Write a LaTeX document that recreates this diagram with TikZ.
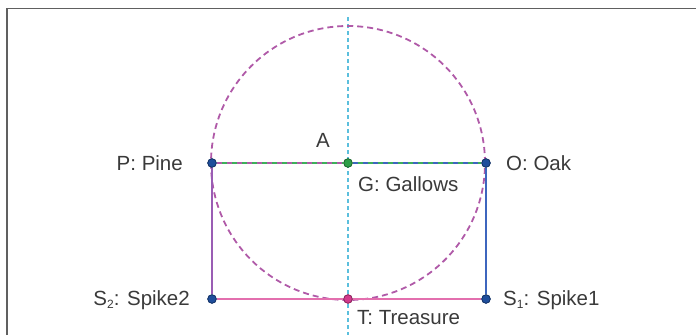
\documentclass[tikz,border=0pt]{standalone}
\usepackage{fontspec}
\setmainfont{Liberation Sans}
\definecolor{framec}{HTML}{606060}
\definecolor{circc}{HTML}{B05AA8}
\definecolor{cyanc}{HTML}{5BBFDD}
\definecolor{greenc}{HTML}{3DAF5A}
\definecolor{bluec}{HTML}{3D66BE}
\definecolor{pinkc}{HTML}{E36FAE}
\definecolor{purplec}{HTML}{9A5DB4}
\definecolor{dotblue}{HTML}{1F4E9C}
\definecolor{dotgreen}{HTML}{2E9E48}
\definecolor{dotpink}{HTML}{D23A8C}
\definecolor{textc}{HTML}{3A3A3A}
\newcommand{\lowsub}[1]{\raisebox{-0.15em}{\fontsize{12}{12}\selectfont #1}}
\begin{document}
\begin{tikzpicture}[x=1pt,y=-1pt,
  framestyle/.style={draw=framec,line width=1.5pt},
  circstyle/.style={draw=circc,line width=1.8pt,dash pattern=on 6pt off 4pt},
  axisstyle/.style={draw=cyanc,line width=1.6pt,dash pattern=on 4pt off 3pt},
  seg/.style={line width=2pt},
  dot/.style={circle,inner sep=0pt,minimum size=8.5pt,draw=#1!65!black,fill=#1,line width=0.7pt},
  lbl/.style={text=textc,font=\fontsize{20.5}{24}\selectfont,inner sep=0pt}]
\useasboundingbox (0,0) rectangle (696,335);
\coordinate (fb) at (7,335);
\coordinate (fc) at (7,8.5);
\coordinate (fr) at (696,8.5);
\draw[framestyle] (fb) -- (fc) -- (fr);
\coordinate (Gc) at (348,163);
\coordinate (vtop) at (348,17);
\coordinate (vbot) at (348,335);
\draw[axisstyle] (vtop) -- (vbot);
\draw[circstyle] (Gc) circle (137pt);
\node[dot=dotblue] (P) at (212,163) {};
\node[dot=dotgreen] (G) at (348,163) {};
\node[dot=dotblue] (O) at (486,163) {};
\node[dot=dotblue] (S2) at (212,299) {};
\node[dot=dotpink] (T) at (348,299) {};
\node[dot=dotblue] (S1) at (486,299) {};
\draw[seg,greenc] (P) -- (G);
\draw[seg,circc,dash pattern=on 5pt off 5pt,line width=1.2pt] (P) -- (G);
\draw[seg,greenc] (G) -- (O);
\draw[seg,bluec,dash pattern=on 5pt off 5pt,line width=1.2pt] (G) -- (O);
\draw[seg,purplec] (P) -- (S2);
\draw[seg,bluec] (O) -- (S1);
\draw[seg,pinkc] (S2) -- (T);
\draw[seg,pinkc] (T) -- (S1);
\node[dot=dotblue] at (P) {};
\node[dot=dotgreen] at (G) {};
\node[dot=dotblue] at (O) {};
\node[dot=dotblue] at (S2) {};
\node[dot=dotpink] at (T) {};
\node[dot=dotblue] at (S1) {};
\node[lbl] (lA) at (323,140) {A};
\node[lbl,anchor=east] (lP) at (183,163) {P: Pine};
\node[lbl,anchor=west] (lO) at (506,163) {O: Oak};
\node[lbl,anchor=west] (lG) at (358,184) {G: Gallows};
\node[lbl,anchor=east] (lS2) at (190,300) {S\lowsub{2}: Spike2};
\node[lbl,anchor=west] (lS1) at (503,300) {S\lowsub{1}: Spike1};
\node[lbl,anchor=west] (lT) at (357,318) {T: Treasure};
\end{tikzpicture}
\end{document}
